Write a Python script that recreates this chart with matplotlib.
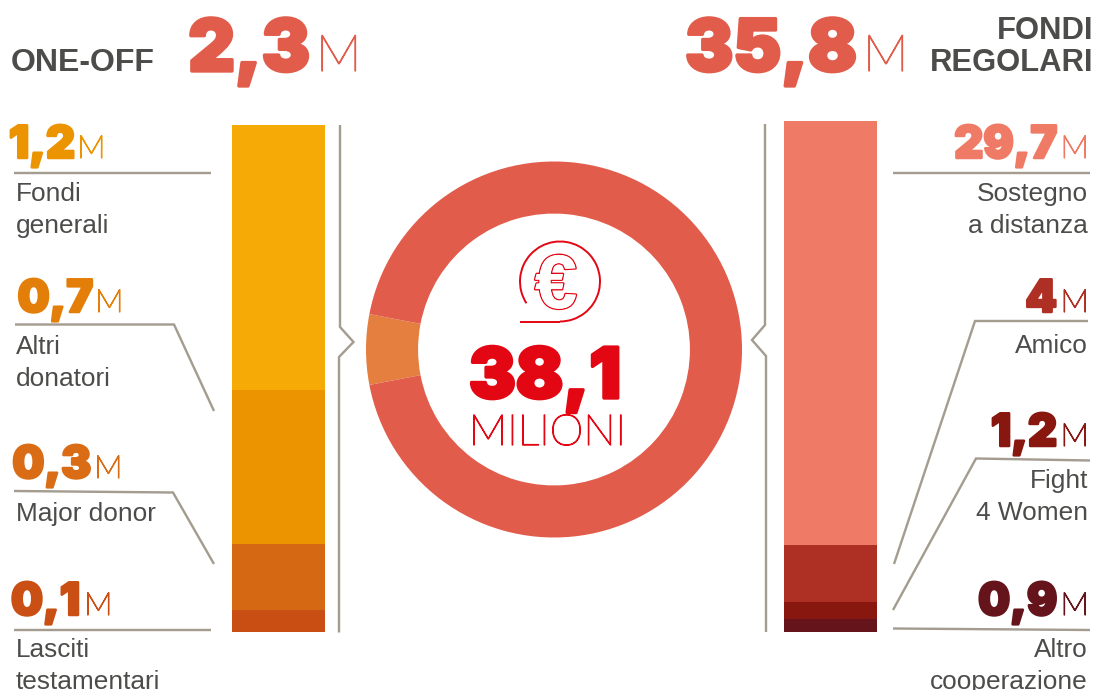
import matplotlib
matplotlib.use("Agg")
import matplotlib.pyplot as plt
import matplotlib.patheffects as pe
from matplotlib.patches import Arc

# Funding breakdown, in millions of euro
oneoff_labels = ["Fondi\ngenerali", "Altri\ndonatori", "Major donor", "Lasciti\ntestamentari"]
oneoff_values = [1.2, 0.7, 0.3, 0.1]
regular_labels = ["Sostegno\na distanza", "Amico", "Fight\n4 Women", "Altro\ncooperazione"]
regular_values = [29.7, 4, 1.2, 0.9]
total_values = [2.3, 35.8]
total_label = "38,1"

ONEOFF_BAR = ["#F6AA05", "#EC9300", "#D56812", "#C84E14"]
ONEOFF_NUM = ["#EC9300", "#E37F08", "#D96C14", "#C94F14"]
REGULAR_COL = ["#EF7B66", "#AE3024", "#881710", "#64141A"]
HEAD = "#E15C4B"
RING = ["#E57F40", "#E15C4B"]
RED = "#E30613"
GREY = "#4C4C4A"
RULE = "#A59C90"

W, H = 1095, 690
fig = plt.figure(figsize=(W / 100, H / 100), dpi=100, facecolor="white")


def axes_px(x0, y0, x1, y1, **kw):
    """Axes placed by pixel box, with y measured from the top of the figure."""
    ax = fig.add_axes([x0 / W, 1 - y1 / H, (x1 - x0) / W, (y1 - y0) / H], **kw)
    ax.axis("off")
    return ax


def stacked(ax, values, colors):
    ax.set_xlim(0, 1)
    ax.set_ylim(sum(values), 0)
    top = 0
    for v, c in zip(values, colors):
        ax.bar(0.5, v, width=1, bottom=top, color=c, linewidth=0)
        top += v


stacked(axes_px(232, 125, 325, 632), oneoff_values, ONEOFF_BAR)
stacked(axes_px(784, 121, 877, 632), regular_values, REGULAR_COL)

# Ring with the one-off share centred on the left side
ring = axes_px(366, 161.5, 742, 537.5)
half = total_values[0] / sum(total_values) * 180
ring.pie(total_values, colors=RING, startangle=180 - half, radius=1,
         wedgeprops=dict(width=0.277, linewidth=0))
ring.set_xlim(-1, 1)
ring.set_ylim(-1, 1)

# Overlay measured in pixels for text and leader rules
ov = axes_px(0, 0, W, H)
ov.set_xlim(0, W)
ov.set_ylim(H, 0)
ov.patch.set_alpha(0)


def pt(px):
    return px * 72 / 100


def heavy(x, y, s, size, color, ha="left", extra=1.5):
    ov.text(x, y, s, fontsize=pt(size), color=color, ha=ha, va="baseline",
            family="Inter", weight="black",
            path_effects=[pe.withStroke(linewidth=extra, foreground=color)])


def light(x, y, s, size, color, ha="left"):
    # The thin Lato cut thickened slightly with a stroke of its own colour
    ov.text(x, y, s, fontsize=pt(size), color=color, ha=ha, va="baseline",
            family="Lato", weight="light",
            path_effects=[pe.withStroke(linewidth=0.9, foreground=color)])


def body(x, y, s, ha="left"):
    ov.text(x, y, s, fontsize=pt(26.3), color=GREY, ha=ha, va="baseline",
            family="Liberation Sans")


def rule(xs, ys, lw=2.4):
    ov.plot(xs, ys, color=RULE, lw=lw * 0.72, solid_joinstyle="miter",
            solid_capstyle="butt")


# Headers
ov.text(155, 71, "ONE-OFF", fontsize=pt(32), color=GREY, weight="bold",
        family="Liberation Sans", ha="right", va="baseline")
ov.text(1093, 39, "FONDI", fontsize=pt(31), color=GREY, weight="bold",
        family="Liberation Sans", ha="right", va="baseline")
ov.text(1093, 71, "REGOLARI", fontsize=pt(31), color=GREY, weight="bold",
        family="Liberation Sans", ha="right", va="baseline")
heavy(310, 71, f"{total_values[0]}".replace(".", ","), 72, HEAD, ha="right", extra=2.4)
light(316, 71, "M", 51, HEAD)
heavy(857, 71, f"{total_values[1]}".replace(".", ","), 72, HEAD, ha="right", extra=2.4)
light(863, 71, "M", 51, HEAD)


def fmt(v):
    return f"{v:g}".replace(".", ",")


# One-off column
num_base = [158, 312, 478, 615]
m_left = [78, 96, 95, 85]
num_right = [75, 93, 91, 80]
text_base = [201, 354, 521, 657]
for v, lab, c, nb, mx, nr, tb in zip(oneoff_values, oneoff_labels, ONEOFF_NUM,
                                     num_base, m_left, num_right, text_base):
    heavy(nr, nb, fmt(v), 45, c, ha="right", extra=1.8)
    light(mx - 1, nb, "M", 32, c)
    for i, line in enumerate(lab.split("\n")):
        body(16, tb + i * 32, line)

# Regular column
num_base = [158, 312, 446, 615]
text_base = [201, 353, 488, 657]
for v, lab, c, nb, tb in zip(regular_values, regular_labels, REGULAR_COL, num_base, text_base):
    heavy(1057, nb, fmt(v), 45, c, ha="right", extra=1.8)
    light(1089, nb, "M", 32, c, ha="right")
    for i, line in enumerate(lab.split("\n")):
        body(1088, tb + i * 32, line, ha="right")

# Leader rules
rule([14, 211], [172.5, 172.5])
rule([15, 174, 214], [324.5, 324.5, 411])
rule([14, 173, 214], [491, 492.5, 564])
rule([14, 211], [629.5, 629.5])
rule([893, 1090], [172.5, 172.5])
rule([1088, 975, 894], [321, 321, 564])
rule([1090, 976, 893], [460.5, 458.5, 610])
rule([893, 1090], [628.5, 630])

# Brackets beside the bars
rule([340, 340, 353.5, 339, 339], [125, 327, 342, 357, 632.5])
rule([765, 765, 752, 766, 766], [124, 325, 340, 356, 632])

# Centre: coin icon, total and unit
ov.add_patch(Arc((560, 281.5), 80, 80, theta1=147, theta2=450, color=RED, lw=1.4))
ov.plot([520, 560], [321.5, 321.5], color=RED, lw=1.4, solid_capstyle="butt")
ov.text(556, 308, "€", fontsize=pt(76), ha="center", va="baseline", color="white",
        family="Liberation Sans", weight="bold",
        path_effects=[pe.withStroke(linewidth=2.0, foreground=RED), pe.Normal()])
heavy(545, 398, total_label, 70, RED, ha="center", extra=2.4)
light(547.5, 445, "MILIONI", 43, RED, ha="center")

fig.savefig("out.png", dpi=100, facecolor="white")
